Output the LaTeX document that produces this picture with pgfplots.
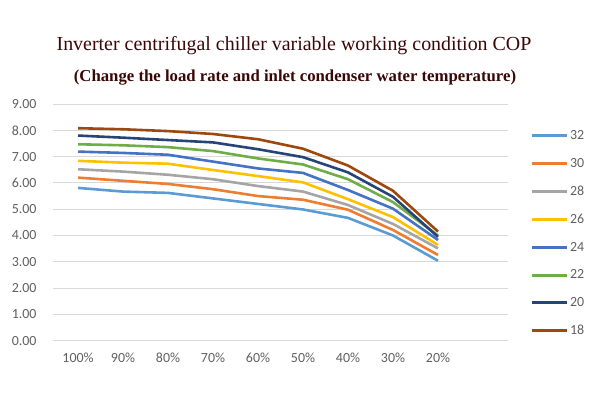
\documentclass[border=0pt]{standalone}
\usepackage{pgfplots}
\pgfplotsset{compat=1.18}
\usepackage{fontspec}
\setmainfont{Liberation Serif}
\newfontfamily\calib{Carlito}
\definecolor{c32}{HTML}{5B9BD5}
\definecolor{c30}{HTML}{ED7D31}
\definecolor{c28}{HTML}{A5A5A5}
\definecolor{c26}{HTML}{FFC000}
\definecolor{c24}{HTML}{4472C4}
\definecolor{c22}{HTML}{70AD47}
\definecolor{c20}{HTML}{264478}
\definecolor{c18}{HTML}{9E480E}
\definecolor{titlecol}{HTML}{3A0606}
\definecolor{tickcol}{HTML}{606060}
\definecolor{gridcol}{HTML}{D9D9D9}
\pgfplotstableread{
x s32 s30 s28 s26 s24 s22 s20 s18
0 5.81 6.20 6.52 6.84 7.19 7.47 7.80 8.08
1 5.67 6.08 6.43 6.77 7.14 7.43 7.72 8.04
2 5.62 5.96 6.31 6.73 7.07 7.36 7.63 7.97
3 5.41 5.76 6.14 6.49 6.81 7.21 7.54 7.86
4 5.20 5.50 5.88 6.26 6.55 6.93 7.28 7.66
5 4.99 5.36 5.67 6.02 6.38 6.70 6.98 7.30
6 4.67 4.98 5.16 5.38 5.73 6.14 6.40 6.66
7 4.00 4.21 4.44 4.70 5.02 5.27 5.47 5.70
8 3.04 3.26 3.51 3.64 3.83 4.00 3.95 4.15
}\cop
\begin{document}
\begin{tikzpicture}[x=1bp,y=1bp]
\path (0,0) rectangle (600,400);
\node[anchor=base, inner sep=0pt, font=\fontsize{20}{22}\selectfont, text=titlecol] at (294,350) {Inverter centrifugal chiller variable working condition COP};
\node[anchor=base, inner sep=0pt, font=\bfseries\fontsize{16.8}{19}\selectfont, text=titlecol] at (295,319) {(Change the load rate and inlet condenser water temperature)};
\begin{axis}[
  at={(53bp,59.3bp)}, anchor=south west,
  scale only axis, width=455bp, height=236.7bp,
  xmin=-0.556, xmax=9.556, ymin=0, ymax=9,
  ytick={0,1,...,9}, xtick={0,...,8},
  xticklabels={100\%,90\%,80\%,70\%,60\%,50\%,40\%,30\%,20\%},
  axis line style={draw=none},
  ymajorgrids, grid style={gridcol, line width=0.9bp},
  major tick length=0pt,
  /pgf/number format/assume math mode=true,
  /pgf/number format/fixed, /pgf/number format/fixed zerofill, /pgf/number format/precision=2,
  tick label style={font=\calib\fontsize{14}{16}\selectfont, text=tickcol},
  yticklabel style={xshift=-13bp},
  xticklabel style={yshift=-9bp},
  legend cell align=left,
  legend image code/.code={\draw[#1, line width=3bp] (0bp,0bp) -- (35bp,0bp);},
  legend style={draw=none, fill=none, at={(1.048,0.898)}, anchor=north west,
    font=\calib\fontsize{14}{16}\selectfont, text=tickcol, row sep=13.2bp, inner sep=0pt},
  every axis plot/.append style={line width=2.6bp, line join=round, no marks},
]
\addplot[c32] table[x=x,y=s32] {\cop}; \addlegendentry{32}
\addplot[c30] table[x=x,y=s30] {\cop}; \addlegendentry{30}
\addplot[c28] table[x=x,y=s28] {\cop}; \addlegendentry{28}
\addplot[c26] table[x=x,y=s26] {\cop}; \addlegendentry{26}
\addplot[c24] table[x=x,y=s24] {\cop}; \addlegendentry{24}
\addplot[c22] table[x=x,y=s22] {\cop}; \addlegendentry{22}
\addplot[c20] table[x=x,y=s20] {\cop}; \addlegendentry{20}
\addplot[c18] table[x=x,y=s18] {\cop}; \addlegendentry{18}
\end{axis}
\end{tikzpicture}
\end{document}
